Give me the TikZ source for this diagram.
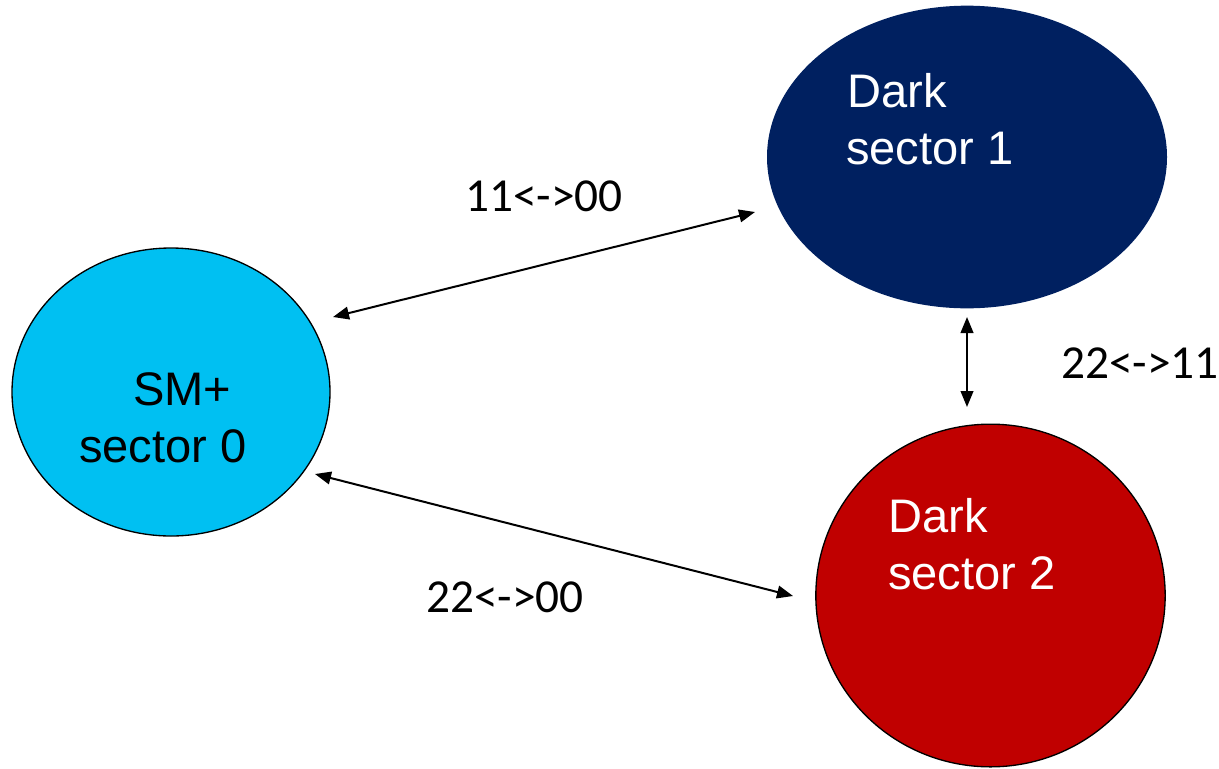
\documentclass[tikz,border=0pt]{standalone}
\usepackage{fontspec}
\setmainfont{Liberation Sans}
\newfontfamily\lblfont{Carlito}
\usetikzlibrary{arrows.meta,shapes.geometric}
\definecolor{smblue}{HTML}{00C0F2}
\definecolor{navy}{HTML}{002060}
\definecolor{dred}{HTML}{C00000}
\tikzset{
  sector/.style={ellipse, inner sep=0pt},
  intext/.style={anchor=base west, inner sep=0pt, font=\fontsize{35.3}{42}\selectfont},
  lbl/.style={anchor=base west, inner sep=0pt, font=\lblfont\fontsize{35.5}{42}\selectfont},
  link/.style={line width=1.5pt, {Triangle[length=12pt,width=9.5pt]}-{Triangle[length=12pt,width=9.5pt]}}
}
\begin{document}
\begin{tikzpicture}[x=0.75pt,y=-0.75pt]
\useasboundingbox (0,0) rectangle (1219,768);
% ellipses
\node[sector, fill=smblue, draw=black, line width=1pt, minimum width=238.5pt, minimum height=216pt] (sm) at (171,392) {};
\node[sector, fill=navy, minimum width=300pt, minimum height=227pt] (ds1) at (967,157) {};
\node[sector, fill=dred, draw=black, line width=1pt, minimum width=262pt, minimum height=257pt] (ds2) at (990.5,595.5) {};
% texts in ellipses
\node[intext] (sm1) at (133,405) {SM+};
\node[intext] (sm2) at (79,462) {sector 0};
\node[intext, text=white] (d11) at (847,107) {Dark};
\node[intext, text=white] (d12) at (846,164) {sector 1};
\node[intext, text=white] (d21) at (888,532) {Dark};
\node[intext, text=white] (d22) at (888,589) {sector 2};
% arrow endpoints
\coordinate (a1s) at (333,317);
\coordinate (a1e) at (755,212);
\coordinate (a2s) at (967,317);
\coordinate (a2e) at (967,407);
\coordinate (a3s) at (315,474);
\coordinate (a3e) at (793,596);
\draw[link] (a1s) -- (a1e);
\draw[link] (a2s) -- (a2e);
\draw[link] (a3s) -- (a3e);
% labels
\node[lbl] (l1) at (465,211) {11<->00};
\node[lbl] (l2) at (1061,378) {22<->11};
\node[lbl] (l3) at (426,612) {22<->00};
\end{tikzpicture}
\end{document}
